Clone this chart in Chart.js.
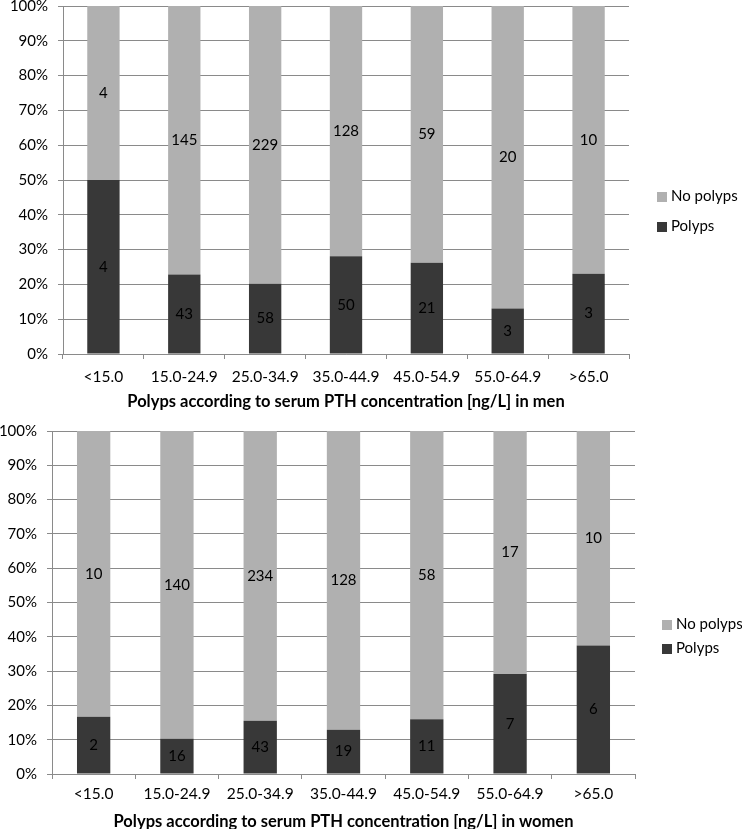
<!DOCTYPE html>
<html>
<head>
<meta charset="utf-8">
<script src="https://cdn.jsdelivr.net/npm/chart.js@4.4.1/dist/chart.umd.min.js"></script>
<style>
  body { margin: 0; background: #fff; width: 742px; height: 829px; position: relative; overflow: hidden; font-family: Lato, sans-serif; }
  .box { position: absolute; left: 0; width: 742px; }
  .legend { position: absolute; font: 15px Lato, sans-serif; color: #000; }
  .legend div { position: absolute; white-space: nowrap; height: 16px; line-height: 16px; }
  .legend span { display: inline-block; width: 10px; height: 10px; margin-right: 4px; vertical-align: -1px; }
</style>
</head>
<body>

<div class="box" style="top:-13px;height:425px"><canvas id="menChart"></canvas></div>
<div class="box" style="top:412px;height:420px"><canvas id="womenChart"></canvas></div>

<div class="legend" style="left:657px;top:187px">
  <div style="top:0"><span style="background:#b0b0b0"></span>No polyps</div>
  <div style="top:30px"><span style="background:#383838"></span>Polyps</div>
</div>
<div class="legend" style="left:662px;top:615px">
  <div style="top:0"><span style="background:#b0b0b0"></span>No polyps</div>
  <div style="top:24px"><span style="background:#383838"></span>Polyps</div>
</div>

<script>
// PTH concentration groups [ng/L]
const categories = ["<15.0", "15.0-24.9", "25.0-34.9", "35.0-44.9", "45.0-54.9", "55.0-64.9", ">65.0"];

// patient counts
const menPolyps = [4, 43, 58, 50, 21, 3, 3];
const menNoPolyps = [4, 145, 229, 128, 59, 20, 10];
const womenPolyps = [2, 16, 43, 19, 11, 7, 6];
const womenNoPolyps = [10, 140, 234, 128, 58, 17, 10];

const seriesNames = ["Polyps", "No polyps"];
const seriesColors = ["#383838", "#b0b0b0"];

const GRID = "#8a8a8a";
const FONT = "Lato, sans-serif";

function share(part, other) {
    return part.map((v, i) => v / (v + other[i]) * 100);
}

// writes the count in the middle of every bar segment
const countLabels = {
    id: "countLabels",
    afterDatasetsDraw(chart) {
        const ctx = chart.ctx;
        ctx.save();
        ctx.font = "15px " + FONT;
        ctx.fillStyle = "#000";
        ctx.textAlign = "center";
        ctx.textBaseline = "middle";
        chart.data.datasets.forEach((ds, d) => {
            chart.getDatasetMeta(d).data.forEach((bar, i) => {
                const c = bar.getCenterPoint();
                ctx.fillText(String(ds.counts[i]), c.x, c.y);
            });
        });
        ctx.restore();
    }
};

function buildChart(id, polyps, noPolyps, title, leftPad, yWidth, xHeight, tickPad, rightPad) {
    new Chart(document.getElementById(id), {
        type: "bar",
        data: {
            labels: categories,
            datasets: [
                {
                    label: seriesNames[0],
                    data: share(polyps, noPolyps),
                    counts: polyps,
                    backgroundColor: seriesColors[0]
                },
                {
                    label: seriesNames[1],
                    data: share(noPolyps, polyps),
                    counts: noPolyps,
                    backgroundColor: seriesColors[1]
                }
            ]
        },
        options: {
            responsive: true,
            maintainAspectRatio: false,
            animation: false,
            layout: { padding: { left: leftPad, right: rightPad, top: 0, bottom: 0 } },
            datasets: { bar: { categoryPercentage: 1, barPercentage: 0.4 } },
            plugins: {
                legend: { display: false },
                tooltip: { enabled: false }
            },
            scales: {
                x: {
                    stacked: true,
                    grid: { drawOnChartArea: false, tickLength: 5, color: GRID },
                    border: { color: GRID },
                    ticks: { color: "#000", padding: tickPad, maxRotation: 0, font: { family: FONT, size: 15.5 } },
                    title: {
                        display: true,
                        text: title,
                        color: "#000",
                        padding: { top: 0, bottom: 0 },
                        font: { family: FONT, size: 16.5, weight: "bold" }
                    },
                    afterFit: s => { s.height = xHeight; }
                },
                y: {
                    stacked: true,
                    min: 0,
                    max: 100,
                    grid: { color: GRID, tickLength: 5 },
                    border: { color: GRID },
                    ticks: {
                        stepSize: 10,
                        padding: 10,
                        color: "#000",
                        font: { family: FONT, size: 15 },
                        callback: v => v + "%"
                    },
                    afterFit: s => { s.width = yWidth; }
                }
            }
        },
        plugins: [countLabels]
    });
}

buildChart("menChart", menPolyps, menNoPolyps,
    "Polyps according to serum PTH concentration [ng/L] in men", 2, 61, 58, 9, 113);
buildChart("womenChart", womenPolyps, womenNoPolyps,
    "Polyps according to serum PTH concentration [ng/L] in women", -10, 62, 58, 6, 107);
</script>
</body>
</html>
